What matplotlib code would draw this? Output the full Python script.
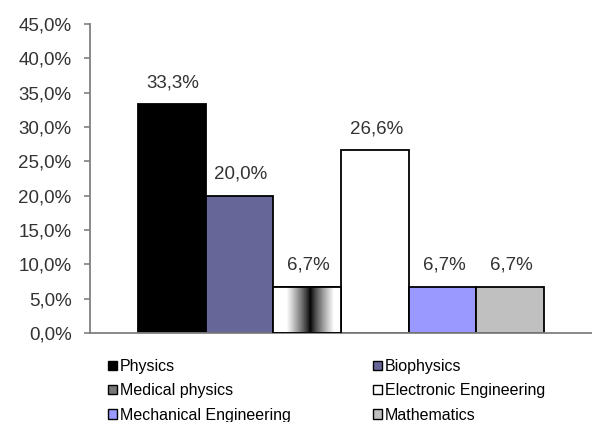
import matplotlib
matplotlib.use("Agg")
import matplotlib.pyplot as plt
import numpy as np
from matplotlib.patches import Patch

plt.rcParams['font.family'] = ['Liberation Sans', 'DejaVu Sans']

categories = ["Physics", "Biophysics", "Medical physics", "Electronic Engineering",
              "Mechanical Engineering", "Mathematics"]
values = [33.3, 20.0, 6.7, 26.6, 6.7, 6.7]
labels = ["33,3%", "20,0%", "6,7%", "26,6%", "6,7%", "6,7%"]
colors = ["#000000", "#666699", "#ffffff", "#ffffff", "#9999ff", "#c0c0c0"]
yticks = [0, 5, 10, 15, 20, 25, 30, 35, 40, 45]
yticklabels = ["0,0%", "5,0%", "10,0%", "15,0%", "20,0%", "25,0%", "30,0%", "35,0%", "40,0%", "45,0%"]

fig = plt.figure(figsize=(5.92, 4.22), dpi=100)
ax = fig.add_axes([90/592, 1-333/422, 1-90/592, (333-24)/422])

n = len(values)
w = 406/502/6
xs = [(-n/2 + i + 0.5) * w for i in range(n)]
bars = ax.bar(xs, values, width=w, color=colors, edgecolor="black", linewidth=1.3, zorder=2)

# gradient for Medical physics
b = bars[2]
x0, y0 = b.get_x(), b.get_y()
bw, bh = b.get_width(), b.get_height()
t = np.linspace(0, 1, 200)
g = np.clip(np.abs(t - 0.55) / 0.35, 0, 1) ** 0.8
img = np.tile(g, (2, 1))
im = ax.imshow(img, cmap="gray", vmin=0, vmax=1, extent=[x0, x0 + bw, y0, y0 + bh],
               aspect="auto", zorder=2.5, interpolation="bilinear")
im.set_clip_path(b)
ax.bar([xs[2]], [values[2]], width=w, color="none", edgecolor="black", linewidth=1.3, zorder=3)

for x, v, lab in zip(xs, values, labels):
    ax.annotate(lab, (x, v), xytext=(1, 9.5), textcoords="offset points",
                ha="center", va="bottom", fontsize=13.5, color="#333333")

ax.set_xlim(-0.5, 0.5)
ax.set_ylim(0, 45)
ax.set_yticks(yticks)
ax.set_yticklabels(yticklabels, fontsize=13.5, color="#333333")
ax.set_xticks([])
for s in ["top", "right"]:
    ax.spines[s].set_visible(False)
ax.spines["left"].set_color("#808080")
ax.spines["bottom"].set_color("#808080")
ax.spines["left"].set_linewidth(1.3)
ax.spines["bottom"].set_linewidth(1.3)
ax.tick_params(axis="y", length=4.3, width=1.2, color="#808080", pad=9)

legend_colors = ["#000000", "#666699", "#777777", "#ffffff", "#9999ff", "#c0c0c0"]
handles = [Patch(facecolor=c, edgecolor="black", linewidth=1.0, label=l)
           for c, l in zip(legend_colors, categories)]
common = dict(loc="upper left", frameon=False, fontsize=11.5, handlelength=0.55,
              handleheight=0.55, handletextpad=0.2, labelspacing=0.58,
              borderpad=0, borderaxespad=0)
col1 = [0, 2, 4]
col2 = [1, 3, 5]
leg1 = fig.legend([handles[i] for i in col1], [categories[i] for i in col1],
                  bbox_to_anchor=(108/592, 1-359/422), **common)
leg2 = fig.legend([handles[i] for i in col2], [categories[i] for i in col2],
                  bbox_to_anchor=(373/592, 1-359/422), **common)

fig.savefig("out.png", dpi=100)
